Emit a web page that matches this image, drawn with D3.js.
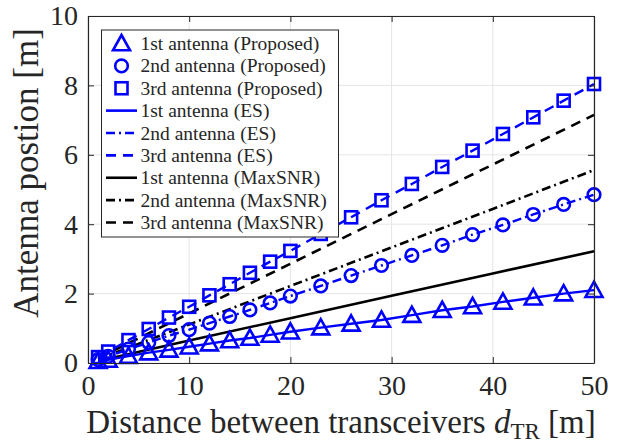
<!DOCTYPE html>
<html>
<head>
<style>
  body { margin: 0; background: #fff; }
  svg text { font-family: "Liberation Serif", "Times New Roman", Tinos, "DejaVu Serif", "Noto Serif", serif; fill: #262626; }
  .tick text { font-size: 28px; }
  .legend text { font-size: 19.5px; }
</style>
<script src="https://d3js.org/d3.v7.min.js"></script>
</head>
<body>
<svg width="624" height="443"></svg>
<script>
// distances d_TR [m]
var dist = [1, 2, 4, 6, 8, 10, 12, 14, 16, 18, 20, 23, 26, 29, 32, 35, 38, 41, 44, 47, 50];

// proposed (markers)
var prop1 = [0.05, 0.09, 0.20, 0.30, 0.38, 0.47, 0.56, 0.65, 0.72, 0.81, 0.90, 1.02, 1.13, 1.24, 1.38, 1.52, 1.63, 1.76, 1.88, 2.00, 2.10];
var prop2 = [0.10, 0.19, 0.40, 0.59, 0.79, 0.96, 1.15, 1.34, 1.53, 1.73, 1.93, 2.22, 2.52, 2.81, 3.10, 3.39, 3.70, 3.98, 4.28, 4.57, 4.85];
var prop3 = [0.17, 0.33, 0.66, 0.98, 1.31, 1.62, 1.95, 2.27, 2.60, 2.92, 3.23, 3.72, 4.20, 4.69, 5.16, 5.65, 6.12, 6.60, 7.08, 7.56, 8.04];

// exhaustive search (lines)
var es1 = [0.05, 0.09, 0.20, 0.30, 0.38, 0.47, 0.56, 0.65, 0.72, 0.81, 0.90, 1.02, 1.13, 1.24, 1.38, 1.52, 1.63, 1.76, 1.88, 2.00, 2.10];
var es2 = [0.10, 0.19, 0.40, 0.59, 0.79, 0.96, 1.15, 1.34, 1.53, 1.73, 1.93, 2.22, 2.52, 2.81, 3.10, 3.39, 3.70, 3.98, 4.28, 4.57, 4.85];
var es3 = [0.17, 0.33, 0.66, 0.98, 1.31, 1.62, 1.95, 2.27, 2.60, 2.92, 3.23, 3.72, 4.20, 4.69, 5.16, 5.65, 6.12, 6.60, 7.08, 7.56, 8.04];

// MaxSNR
var maxDist = [1, 10, 20, 30, 40, 50];
var max1 = [0.06, 0.65, 1.29, 1.94, 2.58, 3.22];
var max2 = [0.11, 1.11, 2.22, 3.33, 4.44, 5.56];
var max3 = [0.14, 1.43, 2.86, 4.29, 5.72, 7.15];

var xTicks = [0, 10, 20, 30, 40, 50];
var yTicks = [0, 2, 4, 6, 8, 10];

var legendLabels = ["1st antenna (Proposed)", "2nd antenna (Proposed)", "3rd antenna (Proposed)",
                    "1st antenna (ES)", "2nd antenna (ES)", "3rd antenna (ES)",
                    "1st antenna (MaxSNR)", "2nd antenna (MaxSNR)", "3rd antenna (MaxSNR)"];

var svg = d3.select("svg");
var pLeft = 88, pRight = 594, pTop = 16, pBottom = 363;

var x = d3.scaleLinear().domain([0, 50]).range([pLeft, pRight]);
var y = d3.scaleLinear().domain([0, 10]).range([pBottom, pTop]);

var blue = "#0000ff", black = "#000000", axisCol = "#262626";
var dashDot = "9,4,2,4", dashed = "10,7";

// grid
svg.append("g").selectAll("line").data(xTicks).enter().append("line")
   .attr("x1", d => x(d)).attr("x2", d => x(d)).attr("y1", pTop).attr("y2", pBottom)
   .attr("stroke", "#e5e5e5").attr("stroke-width", 1);
svg.append("g").selectAll("line").data(yTicks).enter().append("line")
   .attr("x1", pLeft).attr("x2", pRight).attr("y1", d => y(d)).attr("y2", d => y(d))
   .attr("stroke", "#e5e5e5").attr("stroke-width", 1);

var line = d3.line().x(d => x(d[0])).y(d => y(d[1]));
function pairs(xs, ys) { return xs.map((v, i) => [v, ys[i]]); }

var g = svg.append("g");

// MaxSNR lines
[[max1, null], [max2, dashDot], [max3, dashed]].forEach(function(s) {
    g.append("path").attr("d", line(pairs(maxDist, s[0])))
     .attr("fill", "none").attr("stroke", black).attr("stroke-width", 2.6)
     .attr("stroke-dasharray", s[1]);
});

// ES lines
[[es1, null], [es2, dashDot], [es3, dashed]].forEach(function(s) {
    g.append("path").attr("d", line(pairs(dist, s[0])))
     .attr("fill", "none").attr("stroke", blue).attr("stroke-width", 2.4)
     .attr("stroke-dasharray", s[1]);
});

// marker shapes
function triPath(cx, cy) { var r = 8.5; return "M" + cx + "," + (cy - r) + "L" + (cx + r) + "," + (cy + r * 0.8) + "L" + (cx - r) + "," + (cy + r * 0.8) + "Z"; }
function addMarker(sel, type, cx, cy) {
    if (type === "tri") {
        sel.append("path").attr("d", triPath(cx, cy));
    } else if (type === "circ") {
        sel.append("circle").attr("cx", cx).attr("cy", cy).attr("r", 6.3);
    } else {
        sel.append("rect").attr("x", cx - 6).attr("y", cy - 6).attr("width", 12).attr("height", 12);
    }
}
var mk = g.append("g").attr("fill", "none").attr("stroke", blue).attr("stroke-width", 2.6);
[[prop1, "tri"], [prop2, "circ"], [prop3, "sq"]].forEach(function(s) {
    dist.forEach(function(d, i) { addMarker(mk, s[1], x(d), y(s[0][i])); });
});

// axes box with inward ticks
var xAxisB = d3.axisBottom(x).tickValues(xTicks).tickSizeInner(-6).tickSizeOuter(0).tickPadding(12);
var yAxisL = d3.axisLeft(y).tickValues(yTicks).tickSizeInner(-6).tickSizeOuter(0).tickPadding(10);
var xAxisT = d3.axisTop(x).tickValues(xTicks).tickSizeInner(-6).tickSizeOuter(0).tickFormat("");
var yAxisR = d3.axisRight(y).tickValues(yTicks).tickSizeInner(-6).tickSizeOuter(0).tickFormat("");

function styleAxis(a) {
    a.attr("font-family", null).attr("font-size", null);
    a.select(".domain").attr("stroke", axisCol).attr("stroke-width", 1.2);
    a.selectAll(".tick line").attr("stroke", axisCol).attr("stroke-width", 1);
    a.selectAll("text").attr("fill", axisCol);
}
styleAxis(svg.append("g").attr("transform", "translate(0," + pBottom + ")").call(xAxisB));
styleAxis(svg.append("g").attr("transform", "translate(" + pLeft + ",0)").call(yAxisL));
styleAxis(svg.append("g").attr("transform", "translate(0," + pTop + ")").call(xAxisT));
styleAxis(svg.append("g").attr("transform", "translate(" + pRight + ",0)").call(yAxisR));

// axis labels
var xl = svg.append("text").attr("x", 341).attr("y", 433).attr("text-anchor", "middle")
    .style("font-size", "33px");
xl.append("tspan").text("Distance between transceivers ");
xl.append("tspan").style("font-style", "italic").text("d");
xl.append("tspan").attr("dy", 6).style("font-size", "23px").text("TR");
xl.append("tspan").attr("dy", -6).text(" [m]");

svg.append("text").attr("transform", "translate(38,173) rotate(-90)")
   .attr("text-anchor", "middle").style("font-size", "35px").text("Antenna postion [m]");

// legend
var lg = svg.append("g").attr("class", "legend");
lg.append("rect").attr("x", 101.5).attr("y", 30).attr("width", 237).attr("height", 207)
  .attr("fill", "#fff").attr("stroke", axisCol).attr("stroke-width", 1);
var rowY = d3.scaleLinear().domain([0, 8]).range([43.5, 222.5]);
var styles = [
    {m: "tri"}, {m: "circ"}, {m: "sq"},
    {c: blue, d: null}, {c: blue, d: dashDot}, {c: blue, d: dashed},
    {c: black, d: null}, {c: black, d: dashDot}, {c: black, d: dashed}
];
legendLabels.forEach(function(lab, i) {
    var cy = rowY(i);
    var s = styles[i];
    if (s.m) {
        var mg = lg.append("g").attr("fill", "none").attr("stroke", blue).attr("stroke-width", 2.6);
        addMarker(mg, s.m, 121.5, cy);
    } else {
        lg.append("line").attr("x1", 106).attr("x2", 137).attr("y1", cy).attr("y2", cy)
          .attr("stroke", s.c).attr("stroke-width", 2.6).attr("stroke-dasharray", s.d);
    }
    lg.append("text").attr("x", 140.5).attr("y", cy + 6.5).text(lab);
});
</script>
</body>
</html>
